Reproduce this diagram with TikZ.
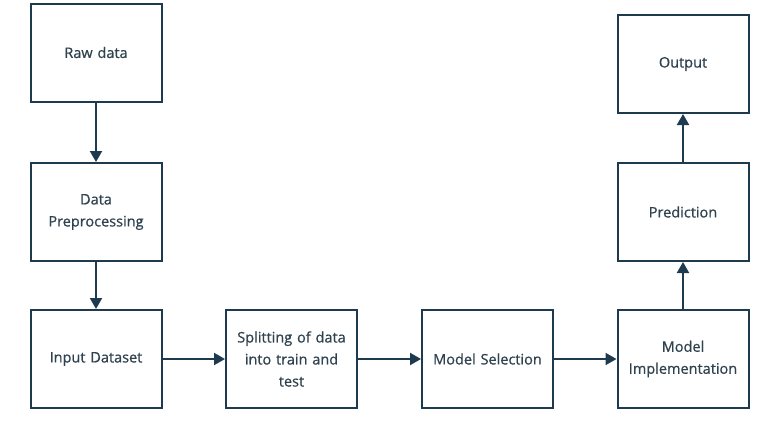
\documentclass[tikz,border=0pt]{standalone}
\usepackage{fontspec}
\setmainfont{Open Sans}
\newfontfamily\stagefont{Open Sans}[FakeBold=0.7]
\usetikzlibrary{arrows.meta}
\definecolor{boxline}{HTML}{1E3A4E}
\definecolor{boxtext}{HTML}{2F424F}
\begin{document}
\begin{tikzpicture}[x=1pt, y=-1pt,
    stage/.style={draw=boxline, line width=2pt, fill=white, minimum width=131pt, minimum height=98pt,
      align=center, text width=124pt, font=\stagefont\fontsize{14.5}{22}\selectfont, text=boxtext},
    flow/.style={draw=boxline, line width=2pt, -{Triangle[length=11pt, width=12pt]}}]
  \useasboundingbox (0,0) rectangle (761,423);
  \node[stage] (raw) at (96,52.5) {Raw data};
  \node[stage] (prep) at (96,212) {Data\\Preprocessing};
  \node[stage] (input) at (96,359) {Input Dataset};
  \node[stage] (split) at (291.5,359) {Splitting of data\\into train and\\test};
  \node[stage] (select) at (487.5,359) {Model Selection};
  \node[stage] (impl) at (683,359) {Model\\Implementation};
  \node[stage] (pred) at (683,212) {Prediction};
  \node[stage] (out) at (683,64) {Output};
  \draw[flow] (raw) -- (prep);
  \draw[flow] (prep) -- (input);
  \draw[flow] (input) -- (split);
  \draw[flow] (split) -- (select);
  \draw[flow] (select) -- (impl);
  \draw[flow] (impl) -- (pred);
  \draw[flow] (pred) -- (out);
\end{tikzpicture}
\end{document}
